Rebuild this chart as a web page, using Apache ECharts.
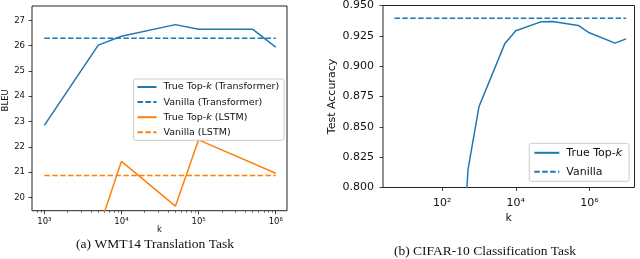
<!DOCTYPE html>
<html><head><meta charset="utf-8">
<script src="https://cdn.jsdelivr.net/npm/echarts@6/dist/echarts.min.js"></script>
<style>html,body{margin:0;padding:0;background:#fff}#c{width:640px;height:259px}</style>
</head><body><div id="c"></div>
<script>
// ---- (a) WMT14 ----
const kWmt = [1e3, 5e3, 1e4, 5e4, 1e5, 5e5, 1e6];
const bleuTransformer = [22.85, 26.02, 26.37, 26.83, 26.65, 26.65, 25.94];
const kLstm = [1e3, 5e3, 1e4, 5e4, 1e5, 1e6];
const bleuLstm = [17.4, 18.7, 21.43, 19.66, 22.28, 20.96];
const vanillaTransformer = 26.29;
const vanillaLstm = 20.87;
const vanillaSpanWmt = [1e3, 1e6];
const wmtYTicks = [20, 21, 22, 23, 24, 25, 26, 27];
const wmtXTicks = [1e3, 1e4, 1e5, 1e6];
const wmtMinorTicks = [800, 900, 2e3, 3e3, 4e3, 5e3, 6e3, 7e3, 8e3, 9e3, 2e4, 3e4, 4e4, 5e4, 6e4, 7e4, 8e4, 9e4, 2e5, 3e5, 4e5, 5e5, 6e5, 7e5, 8e5, 9e5];

// ---- (b) CIFAR-10 ----
const kCifar = [100, 500, 1e3, 5e3, 1e4, 5e4, 1e5, 5e5, 1e6, 5e6, 1e7];
const accTopk = [0.43, 0.8146, 0.8668, 0.9184, 0.9292, 0.9367, 0.9368, 0.9336, 0.9275, 0.919, 0.9225];
const vanillaCifar = 0.9395;
const vanillaSpanCifar = [5, 1e7];
const cifarYTicks = [0.800, 0.825, 0.850, 0.875, 0.900, 0.925, 0.950];
const cifarXTicks = [1e2, 1e4, 1e6];

const BLUE = '#1f77b4', ORANGE = '#ff7f0e', INK = '#111';
const FONT = 'DejaVu Sans';
const SUP = {'0':'⁰','1':'¹','2':'²','3':'³','4':'⁴','5':'⁵','6':'⁶','7':'⁷','8':'⁸','9':'⁹'};
const lg = v => Math.log10(v);
const powLabel = v => '10' + String(Math.round(v)).split('').map(c => SUP[c]).join('');
const pts = (ks, vs) => ks.map((k, i) => [lg(k), vs[i]]);
const flat = (span, v) => span.map(k => [lg(k), v]);

const chart = echarts.init(document.getElementById('c'), null, {renderer: 'canvas'});

function line(name, data, color, dashed, xi, yi) {
  return {
    name, type: 'line', data, xAxisIndex: xi, yAxisIndex: yi,
    symbol: 'none', clip: true, animation: false, silent: true,
    lineStyle: {color, width: 1.5, type: dashed ? [5.5, 2.4] : 'solid'},
    itemStyle: {color}
  };
}

const legendFmt = n => n.replace('Top-k', 'Top-{i|k}');

chart.setOption({
  animation: false,
  grid: [
    {left: 31, top: 6, width: 256, height: 204.7, show: true, borderColor: '#222', borderWidth: 1, containLabel: false},
    {left: 383, top: 4.5, width: 251.5, height: 183, show: true, borderColor: '#222', borderWidth: 1, containLabel: false}
  ],
  xAxis: [
    {type: 'value', gridIndex: 0, min: 2.84, max: 6.146, position: 'bottom',
     name: 'k', nameLocation: 'middle', nameGap: 15, nameMoveOverlap: false,
     nameTextStyle: {fontFamily: FONT, fontSize: 8.5, color: INK},
     axisLine: {show: false}, splitLine: {show: false},
     axisTick: {show: true, length: 3.5, lineStyle: {color: INK, width: 0.8}, customValues: wmtXTicks.map(lg)},
     axisLabel: {show: true, margin: 7, fontFamily: FONT, fontSize: 8.5, color: INK, customValues: wmtXTicks.map(lg), formatter: powLabel}},
    {type: 'value', gridIndex: 0, min: 2.84, max: 6.146, position: 'bottom', offset: 0,
     axisLine: {show: false}, splitLine: {show: false},
     axisTick: {show: true, length: 2, lineStyle: {color: INK, width: 0.6}, customValues: wmtMinorTicks.map(lg)},
     axisLabel: {show: false}},
    {type: 'value', gridIndex: 1, min: 0.389, max: 7.228, position: 'bottom',
     name: 'k', nameLocation: 'middle', nameGap: 25, nameMoveOverlap: false,
     nameTextStyle: {fontFamily: FONT, fontSize: 11, color: INK},
     axisLine: {show: false}, splitLine: {show: false},
     axisTick: {show: true, length: 3.5, lineStyle: {color: INK, width: 0.8}, customValues: cifarXTicks.map(lg)},
     axisLabel: {show: true, margin: 10, fontFamily: FONT, fontSize: 11, color: INK, customValues: cifarXTicks.map(lg), formatter: powLabel}}
  ],
  yAxis: [
    {type: 'value', gridIndex: 0, min: 19.48, max: 27.566,
     name: 'BLEU', nameLocation: 'middle', nameGap: 22, nameRotate: 90,
     nameTextStyle: {fontFamily: FONT, fontSize: 8.5, color: INK, padding: [0, 0, 0, 16]},
     axisLine: {show: false}, splitLine: {show: false},
     axisTick: {show: true, length: 3.5, lineStyle: {color: INK, width: 0.8}, customValues: wmtYTicks},
     axisLabel: {show: true, margin: 7, fontFamily: FONT, fontSize: 8.5, color: INK, customValues: wmtYTicks, formatter: v => String(Math.round(v))}},
    {type: 'value', gridIndex: 1, min: 0.8, max: 0.95, interval: 0.025,
     name: 'Test Accuracy', nameLocation: 'middle', nameGap: 45, nameRotate: 90,
     nameTextStyle: {fontFamily: FONT, fontSize: 11, color: INK},
     axisLine: {show: false}, splitLine: {show: false},
     axisTick: {show: true, length: 3.5, lineStyle: {color: INK, width: 0.8}, customValues: cifarYTicks},
     axisLabel: {show: true, margin: 9, fontFamily: FONT, fontSize: 11, color: INK, customValues: cifarYTicks, formatter: v => v.toFixed(3)}}
  ],
  legend: [
    {orient: 'vertical', left: 133.5, top: 79, padding: [3, 5, 3, 3], itemGap: 5.1, itemWidth: 19, itemHeight: 9,
     backgroundColor: 'rgba(255,255,255,0.85)', borderColor: '#cccccc', borderWidth: 1, borderRadius: 2,
     itemStyle: {opacity: 0},
     data: ['True Top-k (Transformer)', 'Vanilla (Transformer)', 'True Top-k (LSTM)', 'Vanilla (LSTM)'],
     formatter: legendFmt, selectedMode: false,
     textStyle: {fontFamily: FONT, fontSize: 9.5, color: INK, padding: [0, 0, 0, 2],
       rich: {i: {fontFamily: FONT, fontSize: 9.5, fontStyle: 'italic', color: INK}}}},
    {orient: 'vertical', left: 529.3, top: 143.3, padding: [4, 7, 4, 4], itemGap: 8, itemWidth: 25, itemHeight: 11,
     backgroundColor: 'rgba(255,255,255,0.85)', borderColor: '#cccccc', borderWidth: 1, borderRadius: 2,
     itemStyle: {opacity: 0},
     data: ['True Top-k', 'Vanilla'],
     formatter: legendFmt, selectedMode: false,
     textStyle: {fontFamily: FONT, fontSize: 11, color: INK, padding: [0, 0, 0, 2],
       rich: {i: {fontFamily: FONT, fontSize: 11, fontStyle: 'italic', color: INK}}}}
  ],
  series: [
    line('True Top-k (Transformer)', pts(kWmt, bleuTransformer), BLUE, false, 0, 0),
    line('Vanilla (Transformer)', flat(vanillaSpanWmt, vanillaTransformer), BLUE, true, 0, 0),
    line('True Top-k (LSTM)', pts(kLstm, bleuLstm), ORANGE, false, 0, 0),
    line('Vanilla (LSTM)', flat(vanillaSpanWmt, vanillaLstm), ORANGE, true, 0, 0),
    line('True Top-k', pts(kCifar, accTopk), BLUE, false, 2, 1),
    line('Vanilla', flat(vanillaSpanCifar, vanillaCifar), BLUE, true, 2, 1)
  ],
  graphic: [
    {type: 'text', x: 155, y: 244, silent: true,
     style: {text: '(a) WMT14 Translation Task', font: '13.5px "Liberation Serif"', fill: '#111', textAlign: 'center', textVerticalAlign: 'middle'}},
    {type: 'text', x: 485, y: 251.5, silent: true,
     style: {text: '(b) CIFAR-10 Classification Task', font: '13.5px "Liberation Serif"', fill: '#111', textAlign: 'center', textVerticalAlign: 'middle'}}
  ]
});
</script>
</body></html>
